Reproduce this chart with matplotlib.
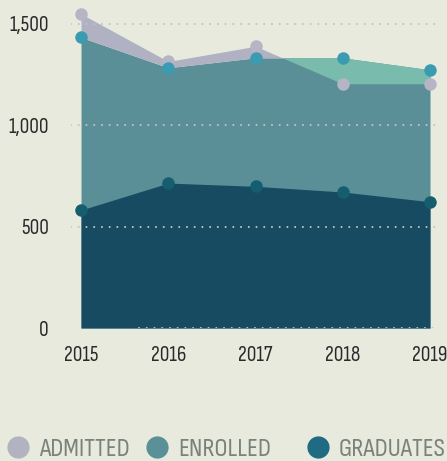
import matplotlib.pyplot as plt
from matplotlib.lines import Line2D
import numpy as np

plt.rcParams['font.family'] = ['Sofia Sans Condensed', 'DejaVu Sans']

years = [2015, 2016, 2017, 2018, 2019]
admitted = [1550, 1315, 1390, 1205, 1205]
enrolled = [1434, 1284, 1333, 1333, 1274]
graduates = [582, 715, 699, 671, 623]
yticks = [0, 500, 1000, 1500]
labels = ["ADMITTED", "ENROLLED", "GRADUATES"]
legend_colors = ['#b1b3c1', '#5b9098', '#1f6b83']

bg = '#e7eadc'
x = np.array(years)
a = np.array(admitted)
e = np.array(enrolled)

fig = plt.figure(figsize=(4.47, 4.61), dpi=100, facecolor=bg)
ax = fig.add_axes([0.1588, 0.2885, 0.8188, 0.7035])
ax.set_facecolor(bg)

# areas
ax.fill_between(x, 0, e, color='#5a8f97', lw=0, zorder=1)
ax.fill_between(x, e, a, where=a >= e, interpolate=True, color='#b0b2c4', lw=0, zorder=1)
ax.fill_between(x, a, e, where=e > a, interpolate=True, color='#79bcad', lw=0, zorder=1)
ax.fill_between(x, 0, graduates, color='#174b62', lw=0, zorder=2)

# dotted grid
for t in yticks:
    ax.axhline(t, xmin=0.185 if t == 0 else 0, color='#c3c3c6', lw=1.5,
               linestyle=(0, (0.01, 3.7)), dash_capstyle='round', zorder=3)

ax.plot(x, admitted, 'o', color='#b5b5c6', ms=9, mew=0, zorder=4, clip_on=False)
ax.plot(x, enrolled, 'o', color='#3b9bb0', ms=9, mew=0, zorder=5, clip_on=False)
ax.plot(x, graduates, 'o', color='#155e6f', ms=9, mew=0, zorder=6, clip_on=False)

ax.set_xlim(2014.885, 2019.08)
ax.set_ylim(0, 1600)
ax.set_xticks(years)
ax.set_xticklabels([str(y) for y in years])
ax.set_yticks(yticks)
ax.set_yticklabels([f"{t:,}" for t in yticks])
ax.tick_params(length=0, labelsize=15.5, colors='#2a2a2a')
ax.tick_params(axis='y', pad=16)
ax.tick_params(axis='x', pad=13)
for s in ax.spines.values():
    s.set_visible(False)

# legend along the bottom
for lx, lab, c in zip([0.0403, 0.3512, 0.7114], labels, legend_colors):
    fig.add_artist(Line2D([lx], [0.0304], marker='o', ms=16, mew=0, color=c,
                          transform=fig.transFigure))
    fig.text(lx + 0.047, 0.0108, lab, fontsize=19, color='#7a827c', va='baseline')

fig.savefig('out.png', dpi=100, facecolor=bg)
